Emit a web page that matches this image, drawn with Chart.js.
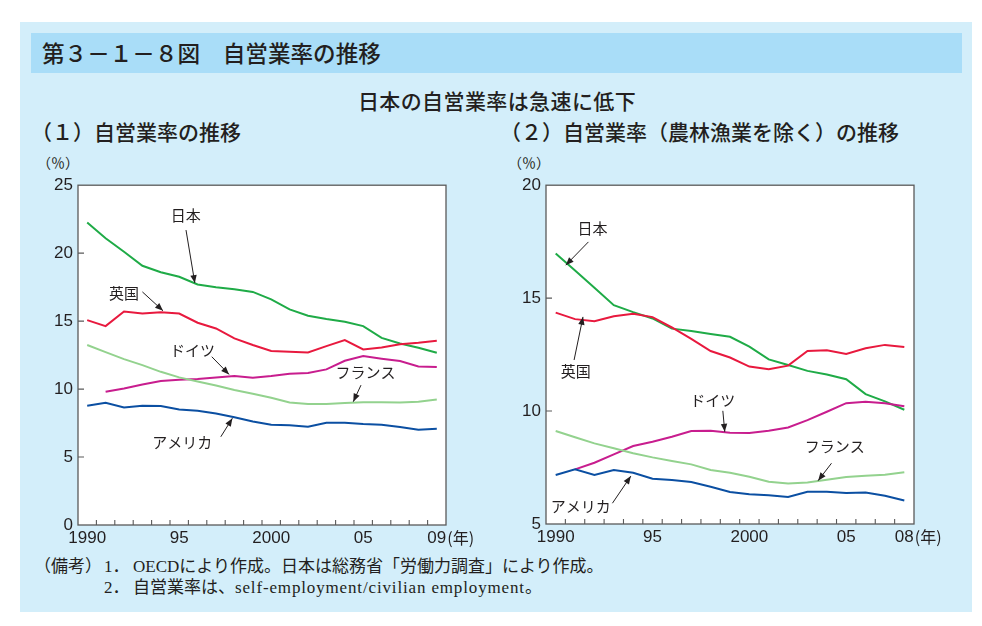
<!DOCTYPE html>
<html><head><meta charset="utf-8">
<script src="https://cdn.jsdelivr.net/npm/chart.js@4.4.1/dist/chart.umd.min.js"></script>
<style>
body{margin:0;width:982px;height:626px;background:#fff;position:relative;overflow:hidden;font-family:"Noto Sans CJK JP",sans-serif;color:#231f20;}
#panel{position:absolute;left:20px;top:22px;width:952px;height:590px;background:#d3eefa;}
#titlebar{position:absolute;left:31px;top:33px;width:931px;height:40px;background:#a9ddf8;}
.t{position:absolute;white-space:nowrap;}
#title{left:42px;top:34px;font-size:22.6px;line-height:38px;font-weight:500;}
#sub{left:0;width:994px;text-align:center;top:86px;font-size:21px;letter-spacing:0.4px;font-weight:500;line-height:28px;}
.h{font-size:21px;font-weight:500;top:117px;line-height:28px;}
.pct{font-size:14px;top:152px;line-height:20px;}
.fn{font-family:"Liberation Serif","Noto Sans CJK JP",serif;font-size:17px;line-height:22px;}
.lat{letter-spacing:0.85px;}
canvas{position:absolute;}
</style></head>
<body>
<div id="panel"></div>
<div id="titlebar"></div>
<div class="t" id="title">第３－１－８図　自営業率の推移</div>
<div class="t" id="sub">日本の自営業率は急速に低下</div>
<div class="t h" style="left:31px">（１）自営業率の推移</div>
<div class="t h" style="left:500px">（２）自営業率（農林漁業を除く）の推移</div>
<div class="t pct" style="left:37px">（％）</div>
<div class="t pct" style="left:508px">（％）</div>
<canvas id="c1" width="450" height="385" style="left:30px;top:170px;width:450px;height:385px"></canvas>
<canvas id="c2" width="450" height="385" style="left:500px;top:170px;width:450px;height:385px"></canvas>
<div class="t fn" style="left:34px;top:556px">（備考）</div>
<div class="t fn" style="left:104px;top:556px">1．</div>
<div class="t fn" style="left:133px;top:556px">OECDにより作成。日本は総務省「労働力調査」により作成。</div>
<div class="t fn" style="left:104px;top:577px">2．</div>
<div class="t fn" style="left:133px;top:577px">自営業率は、<span class="lat">self-employment/civilian employment</span>。</div>
<script>
// ---- data: chart (1) ----
const years1 = ['1990','1991','1992','1993','1994','1995','1996','1997','1998','1999','2000','2001','2002','2003','2004','2005','2006','2007','2008','2009'];
const xTicks1 = ['1990','','','','','95','','','','','2000','','','','','05','','','','09'];
const japan1   = [22.25,21.1,20.1,19.07,18.6,18.26,17.7,17.5,17.35,17.15,16.6,15.86,15.4,15.15,14.95,14.63,13.77,13.36,13.04,12.67];
const uk1      = [15.07,14.63,15.71,15.56,15.66,15.56,14.88,14.46,13.73,13.24,12.8,12.75,12.7,13.16,13.6,12.92,13.06,13.3,13.4,13.55];
const germany1 = [null,9.8,10.05,10.34,10.59,10.69,10.74,10.86,10.96,10.83,10.96,11.13,11.18,11.45,12.08,12.43,12.23,12.06,11.67,11.62];
const france1  = [13.24,12.72,12.2,11.76,11.27,10.86,10.56,10.27,9.93,9.66,9.36,9.02,8.9,8.9,8.97,9.04,9.04,9.02,9.07,9.24];
const usa1     = [8.77,9.0,8.65,8.77,8.75,8.5,8.4,8.21,7.92,7.62,7.38,7.33,7.23,7.52,7.52,7.43,7.38,7.21,7.01,7.08];
// ---- data: chart (2) ----
const years2 = ['1990','1991','1992','1993','1994','1995','1996','1997','1998','1999','2000','2001','2002','2003','2004','2005','2006','2007','2008'];
const xTicks2 = ['1990','','','','','95','','','','','2000','','','','','05','','','08'];
const japan2   = [16.98,16.22,15.46,14.69,14.38,14.1,13.65,13.54,13.41,13.29,12.85,12.29,12.04,11.78,11.62,11.41,10.75,10.43,10.06];
const uk2      = [14.36,14.07,13.98,14.2,14.31,14.16,13.7,13.2,12.66,12.37,11.97,11.85,12.01,12.66,12.69,12.53,12.78,12.93,12.84];
const germany2 = [null,7.42,7.71,8.08,8.45,8.64,8.86,9.12,9.13,9.04,9.03,9.13,9.27,9.6,9.97,10.35,10.41,10.35,10.21];
const france2  = [9.12,8.84,8.57,8.35,8.13,7.95,7.79,7.64,7.39,7.27,7.09,6.87,6.79,6.84,6.96,7.08,7.14,7.18,7.29];
const usa2     = [7.17,7.42,7.17,7.39,7.27,7.0,6.95,6.86,6.65,6.42,6.32,6.27,6.2,6.43,6.43,6.37,6.39,6.25,6.04];
const seriesNames = ['日本','英国','ドイツ','フランス','アメリカ'];

// annotation placement in data space: [text, labelIdx, labelVal, fromIdx, fromVal, toIdx, toVal]
const notes1 = [
  ['日本',5.36,22.8, 5.37,21.7, 5.85,17.8],
  ['英国',2.0,17.08, 3.0,17.15, 4.12,15.76],
  ['ドイツ',5.72,12.87, 6.77,12.38, 7.71,11.08],
  ['フランス',15.12,11.27, 14.88,10.29, 14.46,9.07],
  ['アメリカ',5.17,6.05, 7.26,6.49, 7.89,7.85]
];
const notes2 = [
  ['日本',1.9,18.08, 1.69,17.49, 0.52,16.46],
  ['英国',1.04,11.74, 0.95,12.26, 1.41,14.17],
  ['ドイツ',8.11,10.49, 8.63,10.01, 8.73,9.08],
  ['フランス',14.41,8.45, 14.24,7.69, 13.55,6.92],
  ['アメリカ',1.29,5.8, 2.93,5.92, 3.88,7.12]
];

const colors = {japan:'#1fab47', uk:'#e8193e', germany:'#c81d8e', france:'#93d28e', usa:'#0b4fa2'};
const TICK_FONT = 17, TICK_PAD = 3;

function decor(notes){
  return {
    id:'decor',
    beforeDraw(chart){
      const {ctx, chartArea:a} = chart;
      ctx.save(); ctx.fillStyle='#fff';
      ctx.fillRect(a.left,a.top,a.right-a.left,a.bottom-a.top); ctx.restore();
    },
    afterDraw(chart){
      const {ctx, chartArea:a} = chart;
      const xs = chart.scales.x, ys = chart.scales.y;
      ctx.save();
      ctx.strokeStyle='#5a5a5a'; ctx.lineWidth=1.3;
      ctx.strokeRect(a.left,a.top,a.right-a.left,a.bottom-a.top);
      ctx.lineWidth=1.1; ctx.beginPath();
      const n = chart.data.labels.length;
      for(let i=1;i<n;i++){
        const x = (xs.getPixelForValue(i-1)+xs.getPixelForValue(i))/2;
        ctx.moveTo(x,a.bottom); ctx.lineTo(x,a.bottom-5);
      }
      ys.ticks.forEach(t=>{
        if(t.value<=ys.min||t.value>=ys.max) return;
        const y = ys.getPixelForValue(t.value);
        ctx.moveTo(a.left,y); ctx.lineTo(a.left+6,y);
      });
      ctx.stroke();
      // (年)
      const lastLbl = chart.options.scales.x.ticks.callback(null,n-1);
      ctx.font = TICK_FONT+'px "Liberation Sans", Arial, sans-serif';
      const w = ctx.measureText(lastLbl).width;
      const lx = xs.getPixelForValue(n-1)+w/2+1;
      const ly = a.bottom + TICK_PAD + TICK_FONT*0.6;
      ctx.font = '16px "Noto Sans CJK JP"';
      ctx.fillStyle='#231f20'; ctx.textAlign='left'; ctx.textBaseline='middle';
      ctx.fillText('(年)', lx, ly);
      // annotations
      ctx.textAlign='center';
      notes.forEach(nt=>{
        const [txt,li,lv,fi,fv,ti,tv] = nt;
        ctx.fillStyle='#231f20';
        ctx.font='15px "Noto Sans CJK JP"';
        ctx.fillText(txt, xs.getPixelForValue(li), ys.getPixelForValue(lv));
        const x1=xs.getPixelForValue(fi), y1=ys.getPixelForValue(fv);
        const x2=xs.getPixelForValue(ti), y2=ys.getPixelForValue(tv);
        ctx.strokeStyle='#231f20'; ctx.lineWidth=1;
        ctx.beginPath(); ctx.moveTo(x1,y1); ctx.lineTo(x2,y2); ctx.stroke();
        const ang=Math.atan2(y2-y1,x2-x1), L=8, H=3.2;
        ctx.beginPath();
        ctx.moveTo(x2,y2);
        ctx.lineTo(x2-L*Math.cos(ang)+H*Math.sin(ang), y2-L*Math.sin(ang)-H*Math.cos(ang));
        ctx.lineTo(x2-L*Math.cos(ang)-H*Math.sin(ang), y2-L*Math.sin(ang)+H*Math.cos(ang));
        ctx.closePath(); ctx.fillStyle='#231f20'; ctx.fill();
      });
      ctx.restore();
    }
  };
}

function makeChart(id, labels, xTicks, data, yMin, yMax, pad, yWidth, xHeight, notes){
  const ds = [
    {label:seriesNames[3], data:data[3], borderColor:colors.france},
    {label:seriesNames[4], data:data[4], borderColor:colors.usa},
    {label:seriesNames[2], data:data[2], borderColor:colors.germany},
    {label:seriesNames[1], data:data[1], borderColor:colors.uk},
    {label:seriesNames[0], data:data[0], borderColor:colors.japan}
  ].map(d=>Object.assign(d,{borderWidth:2,pointRadius:0,tension:0,fill:false,spanGaps:false}));
  return new Chart(document.getElementById(id),{
    type:'line',
    data:{labels, datasets:ds},
    options:{
      responsive:false, animation:false, devicePixelRatio:1,
      layout:{padding:pad},
      plugins:{legend:{display:false}, tooltip:{enabled:false}},
      scales:{
        x:{type:'category', offset:true,
           grid:{display:false, drawTicks:false}, border:{display:false},
           afterFit:s=>{s.height=xHeight;},
           ticks:{autoSkip:false, maxRotation:0, padding:TICK_PAD, color:'#231f20',
                  font:{family:'"Liberation Sans", Arial, sans-serif', size:TICK_FONT},
                  callback:(v,i)=>xTicks[i]}},
        y:{min:yMin, max:yMax,
           grid:{display:false, drawTicks:false}, border:{display:false},
           afterFit:s=>{s.width=yWidth;},
           ticks:{stepSize:5, padding:5, color:'#231f20',
                  font:{family:'"Liberation Sans", Arial, sans-serif', size:TICK_FONT}}}
      }
    },
    plugins:[decor(notes)]
  });
}

makeChart('c1', years1, xTicks1, [japan1,uk1,germany1,france1,usa1], 0, 25,
  {left:0, top:10, right:34, bottom:0}, 48, 30, notes1);
makeChart('c2', years2, xTicks2, [japan2,uk2,germany2,france2,usa2], 5, 20,
  {left:0, top:10, right:36, bottom:0}, 46, 31, notes2);
</script>
</body></html>
